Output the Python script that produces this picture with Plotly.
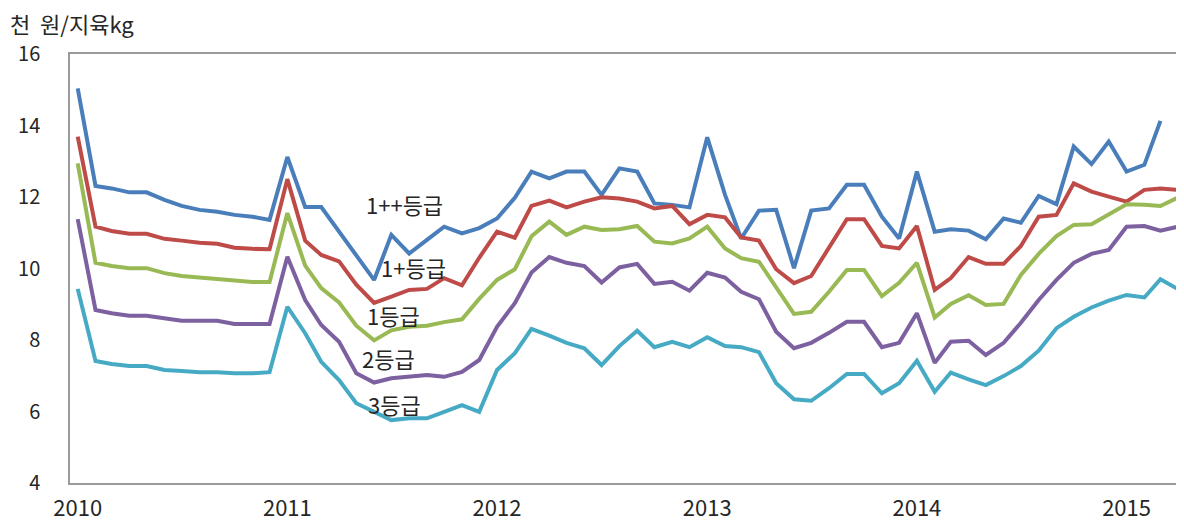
import pandas as pd
import plotly.graph_objects as go

# ---- data (thousand KRW per kg carcass), monthly from Jan 2010 ----
months = pd.date_range("2010-01-01", periods=64, freq="MS")

grade_1pp = [15.04, 12.31, 12.24, 12.13, 12.13, 11.92, 11.75, 11.64, 11.59, 11.50, 11.45, 11.36,
             13.12, 11.72, 11.72, 11.02, 10.34, 9.68, 10.94, 10.42, 10.80, 11.17, 10.98, 11.13,
             11.40, 11.98, 12.71, 12.52, 12.71, 12.71, 12.06, 12.80, 12.71, 11.82, 11.78, 11.71,
             13.67, 12.06, 10.84, 11.62, 11.64, 10.01, 11.62, 11.68, 12.34, 12.34, 11.45, 10.84,
             12.71, 11.03, 11.10, 11.06, 10.82, 11.40, 11.28, 12.03, 11.80, 13.41, 12.92, 13.55,
             12.71, 12.90, 14.13]

grade_1p = [13.69, 11.17, 11.05, 10.97, 10.97, 10.83, 10.78, 10.72, 10.69, 10.58, 10.55, 10.54,
            12.50, 10.78, 10.38, 10.20, 9.55, 9.04, 9.21, 9.40, 9.43, 9.73, 9.53, 10.30,
            11.03, 10.86, 11.75, 11.90, 11.71, 11.87, 11.99, 11.96, 11.87, 11.68, 11.75, 11.24,
            11.50, 11.43, 10.87, 10.78, 9.98, 9.59, 9.79, 10.56, 11.38, 11.38, 10.63, 10.56,
            11.19, 9.40, 9.73, 10.32, 10.13, 10.13, 10.63, 11.45, 11.50, 12.38, 12.15, 12.01,
            11.87, 12.20, 12.24, 12.20]

grade_1 = [12.94, 10.16, 10.07, 10.01, 10.01, 9.87, 9.79, 9.75, 9.72, 9.66, 9.62, 9.62,
           11.55, 10.08, 9.45, 9.05, 8.40, 7.99, 8.27, 8.37, 8.40, 8.50, 8.58, 9.15,
           9.68, 9.98, 10.90, 11.31, 10.94, 11.17, 11.08, 11.10, 11.19, 10.75, 10.70, 10.84,
           11.17, 10.56, 10.29, 10.19, 9.45, 8.73, 8.79, 9.35, 9.96, 9.96, 9.23, 9.60,
           10.16, 8.63, 9.01, 9.25, 8.98, 9.01, 9.82, 10.41, 10.91, 11.22, 11.24, 11.50,
           11.80, 11.78, 11.75, 11.99]

grade_2 = [11.38, 8.84, 8.75, 8.68, 8.68, 8.61, 8.54, 8.54, 8.54, 8.45, 8.45, 8.45,
           10.33, 9.12, 8.42, 7.95, 7.07, 6.81, 6.93, 6.97, 7.02, 6.97, 7.11, 7.44,
           8.37, 9.03, 9.89, 10.32, 10.16, 10.07, 9.61, 10.03, 10.13, 9.57, 9.63, 9.38,
           9.88, 9.75, 9.35, 9.14, 8.23, 7.77, 7.92, 8.20, 8.51, 8.51, 7.80, 7.92,
           8.75, 7.36, 7.95, 7.98, 7.58, 7.92, 8.48, 9.12, 9.68, 10.16, 10.41, 10.52,
           11.17, 11.19, 11.06, 11.17]

grade_3 = [9.43, 7.41, 7.33, 7.27, 7.27, 7.16, 7.13, 7.10, 7.10, 7.07, 7.07, 7.10,
           8.93, 8.19, 7.39, 6.88, 6.23, 5.99, 5.76, 5.81, 5.81, 5.99, 6.18, 5.99,
           7.16, 7.63, 8.31, 8.12, 7.92, 7.77, 7.30, 7.83, 8.26, 7.80, 7.95, 7.80,
           8.08, 7.83, 7.80, 7.66, 6.79, 6.34, 6.30, 6.65, 7.05, 7.05, 6.51, 6.79,
           7.42, 6.55, 7.09, 6.90, 6.74, 6.99, 7.27, 7.70, 8.33, 8.65, 8.91, 9.10,
           9.26, 9.19, 9.70, 9.42]

series_names = ["1++등급", "1+등급", "1등급", "2등급", "3등급"]
series_values = [grade_1pp, grade_1p, grade_1, grade_2, grade_3]
series_colors = ["#4A7EBB", "#BE4B48", "#98B954", "#7D60A0", "#46AAC5"]

# label anchor points (date, value) for in-chart series labels
label_x = ["2011-07-24", "2011-08-09", "2011-07-04", "2011-06-26", "2011-07-07"]
label_y = [11.80, 10.04, 8.70, 7.50, 6.21]

year_ticks = ["2010-01-01", "2011-01-01", "2012-01-01", "2013-01-01", "2014-01-01", "2015-01-01"]
year_text = ["2010", "2011", "2012", "2013", "2014", "2015"]
y_ticks = [4, 6, 8, 10, 12, 14, 16]

FONT = "Noto Sans CJK KR, Noto Sans, sans-serif"

# page body has an 8px default margin: size the figure to fit the 1184x524 window
W, H = 1176, 516

fig = go.Figure()
for name, vals, col in zip(series_names, series_values, series_colors):
    fig.add_trace(go.Scatter(
        x=months[:len(vals)], y=vals, mode="lines", name=name,
        line=dict(color=col, width=4), showlegend=False,
    ))

for name, lx, ly in zip(series_names, label_x, label_y):
    fig.add_annotation(x=lx, y=ly, xref="x", yref="y", text=name, showarrow=False,
                       font=dict(family=FONT, size=22, color="#262626"),
                       xanchor="center", yanchor="middle")

fig.update_layout(
    template="none",
    width=W, height=H,
    margin=dict(l=62, r=0, t=46, b=41),
    paper_bgcolor="white", plot_bgcolor="white",
    title=dict(text="천&nbsp;&nbsp;원/지육kg", x=2 / W, xanchor="left", xref="container",
               y=1 - 17 / H, yanchor="middle", yref="container",
               font=dict(family=FONT, size=22, color="#262626")),
    font=dict(family=FONT, color="#262626"),
)

fig.update_xaxes(
    type="date", range=["2009-12-18 14:00", "2015-04-11"],
    tickvals=year_ticks, ticktext=year_text,
    showgrid=False, zeroline=False,
    showline=True, linecolor="#9A9A9A", linewidth=1.5, mirror=True,
    ticks="", ticklabelstandoff=5,
    tickfont=dict(family=FONT, size=22, color="#262626"),
    automargin=False,
)
fig.update_yaxes(
    range=[4, 16], tickvals=y_ticks,
    showgrid=False, zeroline=False,
    showline=True, linecolor="#9A9A9A", linewidth=1.5, mirror=False,
    ticks="", ticklabelstandoff=24,
    tickfont=dict(family=FONT, size=20, color="#262626"),
    automargin=False,
)

fig.write_html("out.html")
